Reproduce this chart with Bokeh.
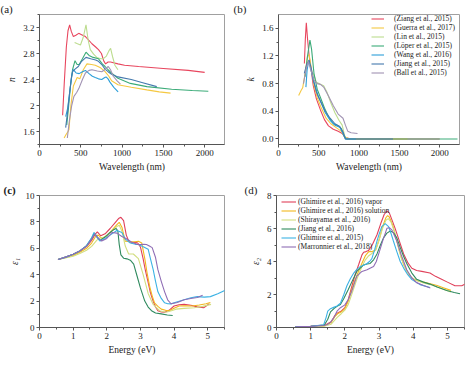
from bokeh.plotting import figure
from bokeh.layouts import column, row
from bokeh.models import FixedTicker, Legend, LegendItem, Range1d, PrintfTickFormatter
from bokeh.embed import file_html
from bokeh.resources import INLINE

FONT = "Liberation Serif"

# ---------------- Panel (a): refractive index n vs wavelength ----------------
a_ziang_x = [280, 300, 325, 345, 365, 385, 410, 440, 475, 510, 556, 600, 635, 680, 714, 750, 780, 800, 830, 860, 950, 1030, 1200, 1500, 1800, 2000]
a_ziang_y = [1.85, 2.35, 2.9, 3.15, 3.24, 3.14, 3.06, 3.08, 3.11, 3.09, 3.06, 3.0, 2.95, 2.9, 2.86, 2.8, 2.68, 2.64, 2.67, 2.67, 2.64, 2.62, 2.6, 2.57, 2.54, 2.51]
a_guerra_x = [298, 320, 345, 357, 380, 410, 456, 488, 530, 575, 630, 675, 740, 794, 840, 873, 950, 1111, 1300, 1450, 1587]
a_guerra_y = [1.5, 1.55, 1.6, 1.63, 2.0, 2.3, 2.43, 2.41, 2.55, 2.64, 2.63, 2.62, 2.58, 2.52, 2.45, 2.38, 2.32, 2.28, 2.24, 2.21, 2.19]
a_lin_x = [425, 460, 496, 530, 563, 590, 615, 655, 694, 740, 774, 810, 840, 861, 885, 913, 950]
a_lin_y = [2.97, 2.95, 2.93, 3.05, 3.24, 3.0, 2.86, 2.79, 2.74, 2.72, 2.72, 2.76, 2.84, 2.88, 2.75, 2.62, 2.55]
a_loper_x = [330, 350, 375, 400, 430, 455, 480, 520, 563, 600, 650, 714, 760, 794, 830, 870, 950, 1100, 1300, 1600, 1850, 2044]
a_loper_y = [1.7, 1.95, 2.3, 2.55, 2.69, 2.63, 2.63, 2.72, 2.82, 2.77, 2.74, 2.72, 2.64, 2.6, 2.55, 2.5, 2.42, 2.34, 2.29, 2.25, 2.23, 2.22]
a_wang_x = [317, 340, 365, 390, 405, 425, 444, 480, 520, 556, 600, 640, 675, 714, 754, 790, 806, 830, 853, 900, 952]
a_wang_y = [1.83, 1.95, 2.2, 2.45, 2.55, 2.53, 2.5, 2.49, 2.52, 2.54, 2.49, 2.45, 2.43, 2.41, 2.4, 2.43, 2.44, 2.41, 2.36, 2.28, 2.21]
a_jiang_x = [317, 340, 365, 385, 400, 430, 470, 510, 563, 620, 680, 714, 760, 794, 830, 873, 950, 1111, 1250, 1420]
a_jiang_y = [1.66, 1.9, 2.2, 2.42, 2.52, 2.56, 2.6, 2.68, 2.74, 2.72, 2.7, 2.68, 2.62, 2.56, 2.52, 2.48, 2.44, 2.4, 2.35, 2.29]
a_ball_x = [337, 360, 390, 417, 450, 476, 520, 556, 600, 635, 700, 754, 790, 813, 833, 860, 893, 940, 980]
a_ball_y = [1.5, 1.75, 2.0, 2.14, 2.2, 2.26, 2.4, 2.5, 2.54, 2.55, 2.53, 2.52, 2.55, 2.58, 2.6, 2.55, 2.45, 2.38, 2.33]

# ---------------- Panel (b): extinction coefficient k vs wavelength ----------------
b_ziang_x = [321, 333, 345, 360, 380, 400, 430, 470, 520, 570, 620, 680, 740, 790, 830, 900, 2000]
b_ziang_y = [1.09, 1.45, 1.68, 1.45, 1.2, 1.05, 0.78, 0.58, 0.42, 0.28, 0.19, 0.14, 0.11, 0.08, 0.02, 0.0, 0.0]
b_guerra_x = [250, 280, 300, 330, 360, 380, 410, 440, 480, 530, 590, 650, 720, 780, 820, 880, 1600]
b_guerra_y = [0.63, 0.7, 0.74, 0.95, 1.2, 1.22, 1.0, 0.78, 0.6, 0.45, 0.3, 0.22, 0.16, 0.11, 0.03, 0.0, 0.0]
b_lin_x = [430, 470, 520, 560, 600, 650, 700, 750, 790, 820, 850, 950]
b_lin_y = [0.95, 0.82, 0.79, 0.77, 0.68, 0.52, 0.38, 0.27, 0.2, 0.05, 0.0, 0.0]
b_loper_x = [330, 360, 390, 410, 440, 480, 520, 570, 620, 680, 740, 780, 810, 840, 2220]
b_loper_y = [0.9, 1.2, 1.43, 1.3, 0.95, 0.72, 0.6, 0.45, 0.32, 0.22, 0.19, 0.15, 0.05, 0.0, 0.0]
b_wang_x = [340, 355, 375, 395, 430, 460, 490, 530, 580, 640, 700, 760, 800, 830, 960]
b_wang_y = [0.75, 1.0, 1.13, 1.05, 0.85, 0.75, 0.62, 0.52, 0.38, 0.27, 0.2, 0.17, 0.08, 0.0, 0.0]
b_jiang_x = [320, 350, 380, 410, 440, 470, 520, 580, 640, 700, 760, 800, 830, 1420]
b_jiang_y = [0.95, 1.08, 1.14, 1.0, 0.82, 0.68, 0.55, 0.4, 0.3, 0.22, 0.18, 0.1, 0.0, 0.0]
b_ball_x = [310, 340, 370, 400, 440, 480, 520, 560, 620, 680, 740, 800, 830, 860, 900, 980]
b_ball_y = [0.8, 1.0, 1.12, 1.0, 0.85, 0.8, 0.79, 0.75, 0.62, 0.48, 0.36, 0.3, 0.2, 0.11, 0.09, 0.08]

# ---------------- Panel (c): epsilon_1 vs energy ----------------
c_vapor_x = [0.55, 0.8, 1.0, 1.2, 1.4, 1.55, 1.65, 1.72, 1.82, 1.95, 2.1, 2.25, 2.35, 2.42, 2.5, 2.58, 2.65, 2.75, 2.85, 2.92, 3.0, 3.08, 3.15, 3.23, 3.3, 3.38, 3.45, 3.52, 3.62, 3.72, 3.85, 4.0, 4.15, 4.3, 4.5, 4.69, 4.88, 5.05]
c_vapor_y = [5.15, 5.35, 5.55, 5.8, 6.15, 6.6, 7.05, 7.25, 6.95, 7.1, 7.5, 7.95, 8.25, 8.35, 8.1, 7.0, 6.55, 6.4, 6.45, 6.4, 6.1, 5.22, 4.3, 3.42, 2.6, 1.99, 1.55, 1.27, 1.18, 1.15, 1.3, 1.63, 1.72, 1.75, 1.68, 1.56, 1.5, 1.8]
c_solution_x = [0.55, 0.8, 1.0, 1.2, 1.4, 1.55, 1.68, 1.75, 1.85, 2.0, 2.15, 2.3, 2.37, 2.45, 2.55, 2.7, 2.85, 2.94, 3.04, 3.13, 3.2, 3.28, 3.35, 3.42, 3.52, 3.62, 3.75, 3.86, 4.0, 4.15, 4.35, 4.54, 4.75, 4.95, 5.08]
c_solution_y = [5.15, 5.3, 5.45, 5.7, 6.0, 6.4, 6.95, 7.0, 6.75, 6.95, 7.35, 7.8, 7.97, 7.6, 6.53, 6.5, 6.5, 6.53, 6.41, 5.22, 4.1, 3.06, 2.4, 1.87, 1.6, 1.39, 1.3, 1.27, 1.45, 1.63, 1.65, 1.63, 1.7, 1.8, 1.9]
c_shirayama_x = [0.55, 0.8, 1.0, 1.2, 1.4, 1.55, 1.7, 1.77, 1.9, 2.0, 2.15, 2.3, 2.37, 2.45, 2.55, 2.65, 2.79, 2.94, 3.08, 3.23, 3.38, 3.57, 3.76, 3.9, 4.06, 4.3, 4.6, 4.85, 5.1]
c_shirayama_y = [5.15, 5.28, 5.4, 5.6, 5.85, 6.15, 6.6, 6.77, 6.8, 7.0, 7.3, 7.65, 7.75, 7.3, 6.17, 5.57, 5.57, 5.22, 4.02, 2.58, 1.75, 1.27, 1.15, 1.25, 1.39, 1.45, 1.5, 1.6, 1.75]
c_jiang_x = [0.55, 0.8, 1.0, 1.2, 1.4, 1.55, 1.63, 1.7, 1.8, 1.95, 2.1, 2.2, 2.28, 2.33, 2.37, 2.42, 2.5, 2.6, 2.7, 2.8, 2.9, 3.0, 3.13, 3.23, 3.33, 3.45, 3.62, 3.8, 3.96]
c_jiang_y = [5.15, 5.35, 5.55, 5.8, 6.2, 6.75, 7.15, 6.9, 6.6, 6.85, 7.2, 7.4, 7.5, 7.3, 6.3, 5.5, 5.25, 5.2, 5.1, 4.8, 3.9, 3.0, 2.0, 1.55, 1.27, 1.1, 1.03, 0.95, 0.91]
c_ghimire15_x = [0.55, 0.8, 1.0, 1.2, 1.4, 1.55, 1.62, 1.7, 1.8, 1.95, 2.1, 2.3, 2.45, 2.55, 2.7, 2.85, 2.94, 3.1, 3.23, 3.3, 3.38, 3.45, 3.52, 3.62, 3.72, 3.81, 3.91, 4.1, 4.3, 4.5, 4.69, 4.9, 5.08, 5.3, 5.52]
c_ghimire15_y = [5.15, 5.35, 5.55, 5.8, 6.2, 6.8, 7.2, 6.85, 6.55, 6.75, 7.0, 7.35, 7.2, 6.7, 6.4, 6.3, 6.29, 6.1, 5.93, 5.2, 4.38, 3.5, 2.7, 2.2, 1.87, 1.8, 1.79, 1.95, 2.1, 2.25, 2.34, 2.3, 2.34, 2.55, 2.82]
c_marronnier_x = [0.55, 0.8, 1.0, 1.2, 1.4, 1.55, 1.65, 1.75, 1.85, 2.0, 2.16, 2.3, 2.45, 2.6, 2.75, 2.9, 2.99, 3.1, 3.18, 3.28, 3.35, 3.45, 3.52, 3.62, 3.72, 3.81, 3.91, 4.1, 4.3, 4.5, 4.69, 4.85]
c_marronnier_y = [5.15, 5.35, 5.55, 5.8, 6.15, 6.7, 7.1, 6.75, 6.55, 6.75, 7.2, 7.15, 6.9, 6.7, 6.45, 6.3, 6.29, 6.3, 6.29, 6.15, 6.05, 5.3, 4.38, 3.5, 2.7, 2.1, 1.8, 1.9, 2.1, 2.2, 2.27, 2.45]

# ---------------- Panel (d): epsilon_2 vs energy ----------------
d_vapor_x = [0.55, 1.0, 1.4, 1.6, 1.7, 1.8, 1.9, 2.0, 2.1, 2.21, 2.3, 2.4, 2.5, 2.55, 2.62, 2.69, 2.8, 2.94, 3.05, 3.15, 3.23, 3.3, 3.4, 3.47, 3.6, 3.72, 3.85, 3.96, 4.1, 4.25, 4.49, 4.65, 4.83, 5.0, 5.22, 5.42, 5.52]
d_vapor_y = [0.05, 0.08, 0.12, 0.35, 0.7, 0.9, 1.0, 1.2, 1.7, 2.53, 3.2, 3.79, 4.4, 4.56, 4.6, 4.66, 5.0, 5.62, 6.3, 6.85, 7.07, 6.95, 6.4, 6.01, 5.2, 4.46, 3.9, 3.59, 3.45, 3.4, 3.3, 3.1, 2.92, 2.75, 2.53, 2.53, 2.63]
d_solution_x = [0.55, 1.0, 1.4, 1.6, 1.7, 1.8, 1.9, 2.0, 2.1, 2.2, 2.3, 2.4, 2.5, 2.6, 2.7, 2.8, 2.9, 3.0, 3.1, 3.2, 3.25, 3.3, 3.4, 3.5, 3.6, 3.72, 3.85, 3.96, 4.1, 4.3, 4.5, 4.7, 4.9, 5.1]
d_solution_y = [0.05, 0.07, 0.1, 0.3, 0.65, 0.85, 0.95, 1.15, 1.6, 2.3, 2.9, 3.4, 3.9, 4.35, 4.6, 4.6, 4.7, 5.3, 6.1, 6.65, 6.78, 6.7, 6.2, 5.4, 4.6, 3.8, 3.3, 3.0, 2.85, 2.75, 2.65, 2.55, 2.4, 2.25]
d_shirayama_x = [0.55, 1.0, 1.4, 1.6, 1.77, 1.9, 2.0, 2.1, 2.2, 2.35, 2.5, 2.6, 2.7, 2.8, 2.9, 3.0, 3.1, 3.2, 3.27, 3.35, 3.45, 3.55, 3.65, 3.8, 3.96, 4.1, 4.3, 4.5, 4.7, 4.9, 5.1]
d_shirayama_y = [0.03, 0.05, 0.08, 0.2, 0.6, 0.85, 1.05, 1.4, 2.0, 2.92, 3.7, 4.1, 4.35, 4.5, 4.7, 5.3, 6.0, 6.5, 6.6, 6.4, 5.8, 5.0, 4.2, 3.45, 3.0, 2.85, 2.7, 2.6, 2.45, 2.3, 2.15]
d_jiang_x = [0.55, 1.0, 1.4, 1.5, 1.58, 1.68, 1.77, 1.87, 1.97, 2.1, 2.2, 2.35, 2.45, 2.55, 2.65, 2.74, 2.84, 2.94, 3.04, 3.13, 3.23, 3.33, 3.42, 3.52, 3.62, 3.72, 3.81, 3.96, 4.1, 4.3, 4.49, 4.7, 4.98, 5.2, 5.37]
d_jiang_y = [0.05, 0.08, 0.15, 0.5, 0.95, 1.15, 1.28, 1.4, 1.76, 2.3, 2.75, 3.4, 3.6, 3.79, 3.85, 3.88, 4.1, 4.46, 5.0, 5.43, 5.72, 5.85, 5.75, 5.43, 4.85, 4.3, 3.88, 3.3, 2.92, 2.75, 2.63, 2.45, 2.24, 2.12, 2.05]
d_ghimire15_x = [0.55, 1.0, 1.38, 1.45, 1.5, 1.58, 1.67, 1.77, 1.87, 1.97, 2.06, 2.16, 2.26, 2.35, 2.45, 2.55, 2.65, 2.72, 2.79, 2.87, 2.94, 3.01, 3.08, 3.18, 3.28, 3.35, 3.42, 3.52, 3.62, 3.72, 3.84, 3.96, 4.2, 4.49]
d_ghimire15_y = [0.05, 0.08, 0.17, 0.6, 0.99, 1.14, 1.22, 1.3, 1.47, 2.0, 2.53, 2.95, 3.3, 3.52, 3.69, 3.78, 3.88, 4.0, 4.17, 4.7, 5.24, 5.7, 6.11, 6.3, 6.11, 5.7, 5.24, 4.6, 4.0, 3.6, 3.2, 2.9, 2.6, 2.43]
d_marronnier_x = [0.55, 1.0, 1.4, 1.5, 1.58, 1.68, 1.77, 1.87, 2.0, 2.1, 2.2, 2.35, 2.5, 2.65, 2.75, 2.84, 2.92, 2.99, 3.1, 3.23, 3.3, 3.38, 3.52, 3.65, 3.81, 3.96, 4.1, 4.3, 4.5]
d_marronnier_y = [0.05, 0.07, 0.12, 0.2, 0.31, 0.6, 0.99, 1.2, 1.37, 1.7, 2.2, 3.11, 3.4, 3.5, 3.6, 3.69, 4.0, 4.46, 5.2, 6.01, 6.05, 5.9, 5.24, 4.4, 3.5, 3.0, 2.72, 2.55, 2.4]

# ---------------- labels, ticks, colours ----------------
ab_labels = ["(Ziang et al., 2015)", "(Guerra et al., 2017)", "(Lin et al., 2015)", "(Löper et al., 2015)",
             "(Wang et al., 2016)", "(Jiang et al., 2015)", "(Ball et al., 2015)"]
ab_colors = ["#e8465e", "#f5c842", "#bcdc8e", "#3bab78", "#2c9fd9", "#4479ad", "#a193b3"]
cd_labels = ["(Ghimire et al., 2016) vapor", "(Ghimire et al., 2016) solution", "(Shirayama et al., 2016)",
             "(Jiang et al., 2016)", "(Ghimire et al., 2015)", "(Marronnier et al., 2018)"]
cd_colors = ["#e0405a", "#f2b81e", "#d2de80", "#2f8a5e", "#3cb2e4", "#8f6db5"]
panel_tags = ["(a)", "(b)", "(c)", "(d)"]

wl_ticks = [0, 500, 1000, 1500, 2000]
wl_minor = [250, 750, 1250, 1750, 2250]
n_ticks = [1.6, 2.0, 2.4, 2.8, 3.2]
n_minor = [1.4, 1.8, 2.2, 2.6, 3.0, 3.4]
k_ticks = [0.0, 0.4, 0.8, 1.2, 1.6]
k_minor = [0.2, 0.6, 1.0, 1.4]
e_ticks = [0, 1, 2, 3, 4, 5]
e_minor = [0.5, 1.5, 2.5, 3.5, 4.5, 5.5]
e1_ticks = [0, 2, 4, 6, 8, 10]
e1_minor = [1, 3, 5, 7, 9]
e2_ticks = [0, 2, 4, 6, 8]
e2_minor = [1, 3, 5, 7]


def make_fig(w, h, xr, yr, borders, xt, xm, yt, ym, xlabel, ylabel, tag, tag_offset, tag_bold=False):
    bl, br, bt, bb = borders
    p = figure(width=w, height=h, x_range=Range1d(*xr), y_range=Range1d(*yr),
               output_backend="svg", toolbar_location=None,
               min_border_left=bl, min_border_right=br, min_border_top=bt, min_border_bottom=bb)
    p.title.text = tag
    p.title.align = "left"
    p.title.offset = tag_offset
    p.title.standoff = 0
    p.title.text_font = FONT
    p.title.text_font_size = "11px"
    p.title.text_font_style = "bold" if tag_bold else "normal"
    p.title.text_color = "#222222"
    p.title.text_line_height = 0.9
    p.xgrid.visible = False
    p.ygrid.visible = False
    p.outline_line_color = "#a0a0a0"
    p.outline_line_width = 1
    p.xaxis.ticker = FixedTicker(ticks=xt, minor_ticks=xm)
    p.yaxis.ticker = FixedTicker(ticks=yt, minor_ticks=ym)
    p.xaxis.axis_label = xlabel
    p.yaxis.axis_label = ylabel
    for ax in (p.xaxis[0], p.yaxis[0]):
        ax.axis_line_color = "#555555"
        ax.major_tick_line_color = "#555555"
        ax.minor_tick_line_color = "#555555"
        ax.major_tick_out = 3
        ax.major_tick_in = 0
        ax.minor_tick_out = 2
        ax.minor_tick_in = 0
        ax.major_label_text_font = FONT
        ax.major_label_text_font_size = "9px"
        ax.major_label_text_color = "#222222"
        ax.axis_label_text_font = FONT
        ax.axis_label_text_font_size = "9.5px"
        ax.axis_label_text_color = "#222222"
        ax.major_label_standoff = 2
        ax.axis_label_standoff = 3
    p.xaxis.axis_label_text_font_style = "normal"
    p.yaxis.axis_label_text_font_style = "italic"
    return p


def add_lines(p, xs, ys, colors):
    rs = []
    for x, y, c in zip(xs, ys, colors):
        rs.append(p.line(x, y, line_color=c, line_width=1.1))
    return rs


def add_legend(p, rs, labels, loc, standoff, gw):
    items = [LegendItem(label=l, renderers=[r]) for l, r in zip(labels, rs)]
    lg = Legend(items=items, location=loc, label_text_font=FONT, label_text_font_size="7.5px",
                label_text_color="#222222", glyph_width=gw, glyph_height=9, label_height=9,
                label_standoff=standoff, spacing=0, padding=1, margin=0,
                border_line_alpha=0, background_fill_alpha=0)
    p.add_layout(lg)


# (a)
pa = make_fig(232, 178, (0, 2240), (1.4, 3.4), (39, 8, 9, 33), wl_ticks, wl_minor, n_ticks, n_minor,
              "Wavelength (nm)", "n", panel_tags[0], -39)
add_lines(pa,
          [a_ziang_x, a_guerra_x, a_lin_x, a_loper_x, a_wang_x, a_jiang_x, a_ball_x],
          [a_ziang_y, a_guerra_y, a_lin_y, a_loper_y, a_wang_y, a_jiang_y, a_ball_y], ab_colors)

# (b)
pb = make_fig(234, 178, (0, 2245), (-0.08, 1.8), (46, 7, 10, 34), wl_ticks, wl_minor, k_ticks, k_minor,
              "Wavelength (nm)", "k", panel_tags[1], -45)
pb.yaxis.formatter = PrintfTickFormatter(format="%.1f")
rb = add_lines(pb,
               [b_ziang_x, b_guerra_x, b_lin_x, b_loper_x, b_wang_x, b_jiang_x, b_ball_x],
               [b_ziang_y, b_guerra_y, b_lin_y, b_loper_y, b_wang_y, b_jiang_y, b_ball_y], ab_colors)
add_legend(pb, rb, ab_labels, (92, 66), 10, 13)

# (c)
pc = make_fig(232, 179, (0, 5.5), (0, 10), (39, 8, 16, 27), e_ticks, e_minor, e1_ticks, e1_minor,
              "Energy (eV)", "ε₁", panel_tags[2], -36, tag_bold=True)
add_lines(pc,
          [c_vapor_x, c_solution_x, c_shirayama_x, c_jiang_x, c_ghimire15_x, c_marronnier_x],
          [c_vapor_y, c_solution_y, c_shirayama_y, c_jiang_y, c_ghimire15_y, c_marronnier_y], cd_colors)

# (d)
pd_ = make_fig(234, 179, (0, 5.5), (0, 8), (44, 2, 17, 27), e_ticks, e_minor, e2_ticks, e2_minor,
               "Energy (eV)", "ε₂", panel_tags[3], -32)
rd = add_lines(pd_,
               [d_vapor_x, d_solution_x, d_shirayama_x, d_jiang_x, d_ghimire15_x, d_marronnier_x],
               [d_vapor_y, d_solution_y, d_shirayama_y, d_jiang_y, d_ghimire15_y, d_marronnier_y], cd_colors)
add_legend(pd_, rd, cd_labels, (4, 75), 2, 15)

layout = column(row(pa, pb, spacing=0), row(pc, pd_, spacing=0), spacing=0)

open("out.html", "w").write(file_html(layout, INLINE))
